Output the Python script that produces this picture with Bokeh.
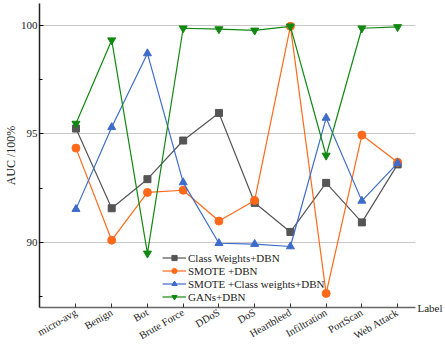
import math
from bokeh.plotting import figure
from bokeh.models import FixedTicker, Legend, LegendItem, LinearAxis
from bokeh.embed import file_html
from bokeh.resources import INLINE

categories = ["micro-avg", "Benign", "Bot", "Brute Force", "DDoS", "DoS",
              "Heartbleed", "Infiltration", "PortScan", "Web Attack"]
class_weights_dbn = [95.24, 91.57, 92.91, 94.69, 95.96, 91.82, 90.48, 92.74, 90.92, 93.59]
smote_dbn = [94.34, 90.10, 92.30, 92.40, 90.98, 91.93, 99.95, 87.65, 94.94, 93.69]
smote_cw_dbn = [91.53, 95.30, 98.70, 92.76, 89.96, 89.92, 89.81, 95.73, 91.91, 93.65]
gans_dbn = [95.47, 99.31, 89.49, 99.86, 99.82, 99.76, 99.95, 94.00, 99.86, 99.92]
y_ticks = [90, 95, 100]
y_minor = [87.5, 92.5, 97.5]
x_title = "Label"
y_title = "AUC /100%"

FONT = "Liberation Serif"
xs = list(range(len(categories)))
Y0, Y1 = 87.0, 101.0

p = figure(width=445, height=348, output_backend="svg", toolbar_location=None,
           x_range=(-1.02, 9.5), y_range=(Y0, Y1),
           min_border_left=10, min_border_right=5, min_border_top=3, min_border_bottom=5)
p.outline_line_color = None
p.background_fill_color = "white"
p.border_fill_color = "white"

p.xgrid.grid_line_color = None
p.ygrid.grid_line_color = "#c8c8c8"
p.ygrid.grid_line_width = 1

p.xaxis.ticker = FixedTicker(ticks=xs)
p.xaxis.major_label_overrides = {i: c for i, c in enumerate(categories)}
p.xaxis.major_label_orientation = math.pi / 6
p.xaxis.major_tick_in = 4
p.xaxis.major_tick_out = 0
p.xaxis.minor_tick_in = 0
p.xaxis.minor_tick_out = 0
p.xaxis.minor_tick_line_color = None
p.xaxis.axis_line_color = "#666666"
p.xaxis.axis_line_width = 1.5
p.xaxis.major_tick_line_color = "#333333"
p.xaxis.major_label_text_font = FONT
p.xaxis.major_label_text_font_size = "10.5px"
p.xaxis.major_label_text_color = "#222222"
p.xaxis.major_label_standoff = 4

p.yaxis.ticker = FixedTicker(ticks=y_ticks, minor_ticks=y_minor)
p.yaxis.major_tick_in = 4
p.yaxis.major_tick_out = 0
p.yaxis.minor_tick_in = 3
p.yaxis.minor_tick_out = 0
p.yaxis.axis_line_color = "#222222"
p.yaxis.axis_line_width = 1.5
p.yaxis.major_label_text_font = FONT
p.yaxis.major_label_text_font_size = "11px"
p.yaxis.major_label_text_color = "#222222"
p.yaxis.major_label_standoff = 2
p.yaxis.axis_label = y_title
p.yaxis.axis_label_standoff = 0
p.yaxis.axis_label_text_font = FONT
p.yaxis.axis_label_text_font_size = "12px"
p.yaxis.axis_label_text_font_style = "normal"
p.yaxis.axis_label_text_color = "#222222"

# right-hand "Label" text at the end of the x axis
rax = LinearAxis(ticker=FixedTicker(ticks=[Y0]), major_label_overrides={Y0: x_title})
rax.axis_line_color = None
rax.major_tick_line_color = None
rax.minor_tick_line_color = None
rax.major_tick_in = 0
rax.major_tick_out = 0
rax.minor_tick_in = 0
rax.minor_tick_out = 0
rax.major_label_standoff = 2
rax.major_label_text_font = FONT
rax.major_label_text_font_size = "11px"
rax.major_label_text_color = "#222222"
p.add_layout(rax, "right")

series = [
    ("Class Weights+DBN", class_weights_dbn, "#555555", "square", 7),
    ("SMOTE +DBN", smote_dbn, "#FF6A1A", "circle", 8),
    ("SMOTE +Class weights+DBN", smote_cw_dbn, "#3E6CC9", "triangle", 8),
    ("GANs+DBN", gans_dbn, "#118811", "inverted_triangle", 8),
]
items = []
for name, vals, color, marker, size in series:
    r1 = p.line(xs, vals, line_color=color, line_width=1.2)
    r2 = p.scatter(xs, vals, marker=marker, size=size, fill_color=color, line_color=color)
    items.append(LegendItem(label=name, renderers=[r1, r2]))

legend = Legend(items=items, location=(123, 4), orientation="vertical")
legend.background_fill_alpha = 0
legend.border_line_color = None
legend.padding = 0
legend.margin = 0
legend.spacing = 0
legend.glyph_width = 24
legend.glyph_height = 13
legend.label_height = 13
legend.label_standoff = 2
legend.label_text_font = FONT
legend.label_text_font_size = "11px"
legend.label_text_color = "#222222"
p.add_layout(legend, "center")

open("out.html", "w").write(file_html(p, INLINE))
